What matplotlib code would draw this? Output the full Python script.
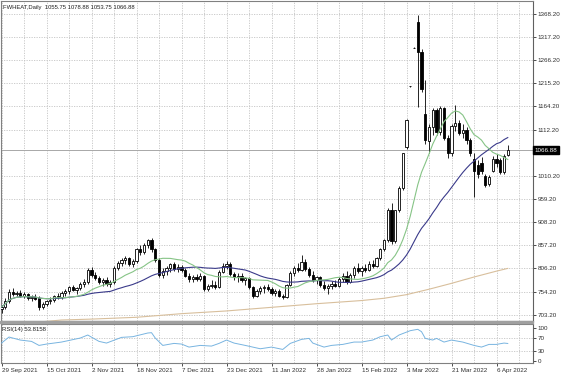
import matplotlib
matplotlib.use('Agg')
import matplotlib.pyplot as plt
import matplotlib.transforms as mtransforms
from matplotlib.patches import Rectangle
import numpy as np
import pandas as pd

# ---------------- data ----------------
opens = [716,721,733,754,750,752,746,749,740,743,740,721,728,733,737,745,742,752,755,764,
         758,762,771,776,803,792,784,777,781,772,776,808,818,825,829,815,822,848,842,858,
         868,848,824,792,800,808,815,805,810,802,790,782,788,782,790,760,768,770,765,798,
         812,816,793,786,790,780,784,764,745,756,762,766,760,752,756,745,742,770,796,806,
         803,820,804,792,780,786,770,762,768,772,768,782,790,776,792,806,800,808,802,816,
         812,828,848,868,934,866,934,984,1074,1208,1294,1350,1284,1148,1088,1118,1155,1108,1160,1095,
         1060,1120,1128,1105,1112,1090,1048,1035,1040,1010,992,1022,1048,1045,1020,1055.75]
highs = [726,740,760,762,757,758,754,752,748,750,745,732,737,742,748,752,755,760,768,770,
         766,775,782,808,810,797,790,785,786,780,812,822,830,833,832,826,852,858,862,872,
         874,852,830,806,812,818,820,815,814,806,796,792,794,796,792,772,780,778,802,818,
         822,820,798,796,796,788,786,768,760,768,770,772,764,760,760,750,772,800,812,818,
         836,826,810,800,790,790,778,772,778,780,786,796,800,796,812,818,812,816,822,824,
         832,852,872,940,950,936,988,1062,1136,1209,1295,1365,1290,1222,1125,1160,1160,1165,1162,1100,
         1125,1168,1135,1125,1118,1095,1060,1045,1052,1015,1012,1055,1058,1050,1058,1078.88]
lows = [708,716,730,746,744,743,740,737,734,736,714,716,722,728,732,738,739,746,750,755,
        750,758,766,772,788,780,772,768,768,765,772,802,812,816,812,810,818,836,838,852,
        842,820,786,784,792,798,800,798,798,786,776,776,778,778,755,756,762,760,762,795,
        805,790,780,776,776,770,760,740,742,750,752,755,748,744,742,738,740,768,790,798,
        800,800,788,776,772,766,758,750,760,764,766,776,772,774,784,795,790,798,800,808,
        810,824,844,864,860,862,930,980,1070,1207,1293,1162,1195,1080,1060,1100,1100,1100,1090,1050,
        1055,1110,1100,1095,1080,1055,964,1005,1015,985,988,1018,1030,1015,1015,1053.75]
closes = [721,734,754,750,752,746,749,740,743,739,720,728,733,737,745,742,752,755,764,758,
          762,771,776,803,792,784,777,781,772,776,808,818,825,829,815,822,848,842,858,868,
          848,824,792,800,808,815,805,810,802,790,782,788,782,790,760,768,770,765,798,812,
          816,793,786,790,780,784,764,745,756,762,766,760,752,756,745,742,770,796,806,803,
          820,804,792,780,786,770,762,768,772,768,782,790,776,792,806,800,808,802,816,812,
          828,848,868,934,866,934,984,1060,1134,1208,1294,1284,1202,1089,1118,1155,1108,1160,1095,1060,
          1120,1128,1105,1112,1090,1060,1022,1015,1022,990,1008,1048,1040,1020,1055,1066.88]

ma_fast_period = 14
ma_mid_period = 30
ma_long_idx = [0, 16, 24, 36, 48, 60, 66, 72, 84, 96, 102, 108, 114, 120, 126, 132, 135]
ma_long_val = [680, 692, 694, 698, 706, 712, 716, 720, 728, 735, 740, 748, 760, 773, 787, 800, 806]

rsi_idx = [0, 2, 5, 8, 10, 12, 16, 21, 23, 26, 28, 32, 35, 39, 40, 41, 43, 46, 48, 50, 53, 56,
           58, 60, 62, 65, 69, 72, 75, 77, 80, 82, 83, 86, 88, 91, 94, 96, 99, 101, 103, 104,
           106, 109, 111, 112, 113, 115, 116, 118, 120, 123, 126, 128, 130, 132, 134, 135]
rsi_val = [55, 73, 64, 60, 48, 52, 58, 70, 79, 60, 55, 72, 74, 85, 86, 70, 48, 54, 52, 43, 48, 46,
           54, 64, 55, 48, 38, 43, 36, 54, 66, 69, 55, 43, 48, 51, 58, 58, 64, 74, 79, 64,
           79, 92, 96, 89, 69, 64, 69, 58, 64, 58, 48, 43, 51, 51, 55, 53.8]

price_ticks = [1368.20, 1317.20, 1266.20, 1215.20, 1164.20, 1112.20, 1010.20,
               959.20, 908.20, 857.20, 806.20, 754.20, 703.20]
last_price = 1066.88
rsi_ticks = [100, 70, 30, 0]
date_labels = ['29 Sep 2021', '15 Oct 2021', '2 Nov 2021', '18 Nov 2021', '7 Dec 2021',
               '23 Dec 2021', '11 Jan 2022', '28 Jan 2022', '15 Feb 2022', '3 Mar 2022',
               '21 Mar 2022', '6 Apr 2022']
header = 'FWHEAT,Daily  1055.75 1078.88 1053.75 1066.88'
rsi_header = 'RSI(14) 53.8158'

# ---------------- figure ----------------
plt.rcParams['font.family'] = ['Liberation Sans', 'DejaVu Sans']
W, H = 564, 376
fig = plt.figure(figsize=(W / 100, H / 100), dpi=100)
fig.patch.set_facecolor('white')


def rect(x0, y0, x1, y1):
    return [x0 / W, 1 - y1 / H, (x1 - x0) / W, (y1 - y0) / H]


ax = fig.add_axes(rect(0.5, 0.5, 533, 320.5))
axr = fig.add_axes(rect(0.5, 323.5, 533, 363))

n = len(closes)
idx = np.arange(n)
o = np.array(opens, float)
h = np.array(highs, float)
l = np.array(lows, float)
c = np.array(closes, float)
up = c >= o

grid_kw = dict(color='#c4c4c4', lw=0.6, linestyle=(0, (1.5, 1.5)))
frame_col = '#808080'
fs = 4.5

for a in (ax, axr):
    a.set_xlim(-0.27, 141.73)
    a.set_xticks(np.arange(0, n + 6, 6), minor=True)
    a.set_xticks(np.arange(0, n, 12))
    a.grid(True, which='both', axis='x', **grid_kw)
    for s in a.spines.values():
        s.set_color(frame_col)
        s.set_linewidth(0.8)
    a.spines['right'].set_color('#606060')
    a.yaxis.tick_right()
    a.tick_params(axis='y', which='both', length=2, width=0.6, pad=1.5,
                  labelsize=fs, colors='#303030')
    a.tick_params(axis='x', which='minor', length=0)
    a.set_axisbelow(True)

# ----- main price panel -----
ax.set_ylim(690.9, 1398.0)
ax.set_yticks(price_ticks)
ax.set_yticklabels([f'{v:.2f}' for v in price_ticks])
ax.grid(True, axis='y', **grid_kw)
ax.tick_params(axis='x', which='major', length=0, labelbottom=False)

ax.axhline(last_price, color='#a8a8a8', lw=0.7, zorder=1)

ax.vlines(idx, l, h, color='black', lw=0.6, zorder=2)
ax.bar(idx[up], (c - o)[up], bottom=o[up], width=0.62, color='white',
       edgecolor='black', linewidth=0.6, zorder=3)
ax.bar(idx[~up], (o - c)[~up], bottom=c[~up], width=0.62, color='black',
       edgecolor='black', linewidth=0.6, zorder=3)

cs = pd.Series(c)
ma_fast = cs.rolling(ma_fast_period, min_periods=1).mean()
ma_mid = cs.rolling(ma_mid_period, min_periods=1).mean()
ax.plot(ma_long_idx, ma_long_val, color='#d8bf9c', lw=0.8, zorder=4)
ax.plot(idx, ma_mid, color='#3a3a8a', lw=0.8, zorder=4)
ax.plot(idx, ma_fast, color='#86c486', lw=0.8, zorder=4)

trans = mtransforms.blended_transform_factory(ax.transAxes, ax.transData)
ax.text(1.003, last_price, f'{last_price:.2f}', transform=trans, fontsize=fs,
        color='white', va='center', ha='left',
        bbox=dict(boxstyle='square,pad=0.25', fc='black', ec='black'))

fig.text(3 / W, 1 - 7 / H, header, fontsize=4.2, color='#202020', va='center', ha='left')

# ----- RSI panel -----
axr.set_ylim(-4.5, 113.4)
axr.set_yticks(rsi_ticks)
axr.set_yticklabels([str(v) for v in rsi_ticks])
for lev in (70, 30):
    axr.axhline(lev, **grid_kw)
axr.plot(rsi_idx, rsi_val, color='#78b4e0', lw=0.7, zorder=3)
axr.text(2 / 533, 1 - 4 / 39.5, rsi_header, transform=axr.transAxes, fontsize=4.3,
         color='#202020', va='top', ha='left')

axr.set_xticklabels(date_labels)
axr.tick_params(axis='x', which='major', length=2, width=0.6, pad=1.5,
                labelsize=fs, colors='#303030')
for lab in axr.get_xticklabels():
    lab.set_horizontalalignment('left')

# separator between panels
fig.patches.append(Rectangle((0, 1 - 323.2 / H), 533 / W, 2.4 / H,
                             transform=fig.transFigure, color='#a0a0a0', zorder=5))

fig.savefig('out.png', dpi=100, facecolor='white')
